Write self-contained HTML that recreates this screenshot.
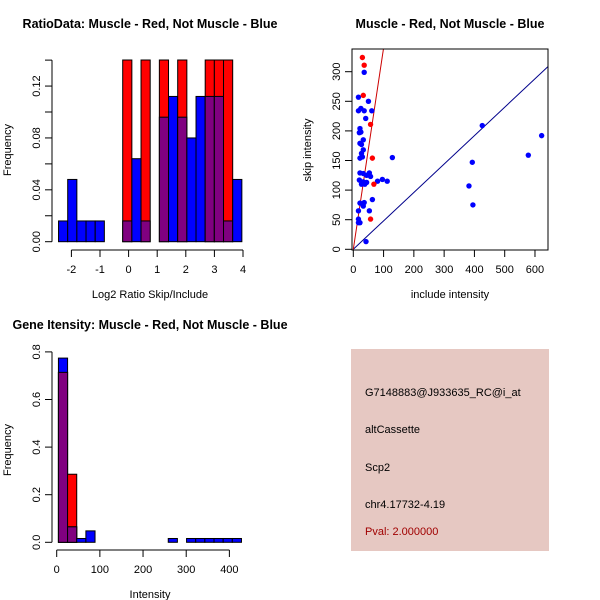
<!DOCTYPE html>
<html><head><meta charset="utf-8"><style>
body{margin:0;background:#fff}
svg{display:block;font-family:"Liberation Sans",sans-serif}
</style></head><body>
<svg id="c" width="600" height="600" viewBox="0 0 600 600"></svg>
<script>
// Ratio histogram data (20 bins)
const ratioBinStart = -2.45;
const ratioBinWidth = 0.3205;
const ratioBlue = [0.016,0.048,0.016,0.016,0.016,0,0,0.016,0.064,0.016,0,0.096,0.112,0.096,0.08,0.112,0.112,0.112,0.016,0.048];
const ratioRed  = [0,0,0,0,0,0,0,0.16,0,0.16,0,0.16,0,0.16,0,0,0.16,0.16,0.16,0];
const ratioXTicks = [-2,-1,0,1,2,3,4];
const ratioYTicks = [0,0.04,0.08,0.12];
// Scatter data
const redX = [30,36,33,57,63,68,57];
const redY = [324,311,260,211,154,110,51];
const blueX = [36,17,50,17,25,36,61,41,22,25,20,33,22,27,33,27,22,30,129,22,33,53,44,57,20,33,44,27,38,80,96,112,63,22,36,33,53,17,17,17,22,42,426,393,382,395,578,622];
const blueY = [299,257,250,234,238,234,234,221,204,198,197,185,179,177,168,162,154,156,155,129,128,129,125,123,117,114,113,110,110,115,118,115,84,78,79,73,65,65,51,45,45,13,209,147,107,75,159,192];
const scatXTicks = [0,100,200,300,400,500,600];
const scatYTicks = [0,50,100,150,200,250,300];
const redSlope = 3.4, blueSlope = 0.48;
// Intensity histogram (20 bins)
const intBinStart = 4;
const intBinWidth = 21.2;
const intBlue = [0.774,0.065,0.016,0.048,0,0,0,0,0,0,0,0,0.016,0,0.016,0.016,0.016,0.016,0.016,0.016];
const intRed  = [0.714,0.286,0,0,0,0,0,0,0,0,0,0,0,0,0,0,0,0,0,0];
const intXTicks = [0,100,200,300,400];
const intYTicks = [0,0.2,0.4,0.6,0.8];

const svg = document.getElementById('c');
const NS = 'http://www.w3.org/2000/svg';
function mk(tag, attrs, parent){const e=document.createElementNS(NS,tag);for(const k in attrs)e.setAttribute(k,attrs[k]);(parent||svg).appendChild(e);return e;}
function txt(s,x,y,attrs,parent){const t=mk('text',Object.assign({x:x,y:y,'font-size':11,'text-anchor':'middle',fill:'#000'},attrs||{}),parent);t.textContent=s;return t;}

// ---------- Panel 1 ----------
{
const g = mk('g',{});


const x = v => 128.6 + v*28.6;
const y = v => 241.7 - v*1297;
const clipTop = 60;
const t=txt('RatioData: Muscle - Red, Not Muscle - Blue',150,28,{'font-weight':'bold','font-size':12.5},g);

for(let i=0;i<ratioBlue.length;i++){
  const x0=x(ratioBinStart+i*ratioBinWidth), x1=x(ratioBinStart+(i+1)*ratioBinWidth);
  const r=ratioRed[i], b=ratioBlue[i];
  if(r>0){const ry=Math.max(y(r),clipTop);const e=mk('rect',{x:x0,y:ry,width:x1-x0,height:241.7-ry,fill:'#ff0000',stroke:'#000','stroke-width':1},g);
    }
  if(b>0){const col=r>0?'#800080':'#0000ff';const e=mk('rect',{x:x0,y:y(b),width:x1-x0,height:241.7-y(b),fill:col,stroke:'#000','stroke-width':1},g);
    }
}
mk('line',{x1:52,y1:y(0),x2:52,y2:y(0.14),stroke:'#000'},g);
for(let v=0;v<=0.1401;v+=0.02) mk('line',{x1:45,y1:y(v),x2:52,y2:y(v),stroke:'#000'},g);
ratioYTicks.forEach(v=>txt(v.toFixed(2),40,y(v),{transform:`rotate(-90 40 ${y(v)})`},g));
mk('line',{x1:x(-2),y1:250,x2:x(4),y2:250,stroke:'#000'},g);
ratioXTicks.forEach(v=>{mk('line',{x1:x(v),y1:250,x2:x(v),y2:257,stroke:'#000'},g);txt(String(v),x(v),273,{},g);});
const xl=txt('Log2 Ratio Skip/Include',150,298,{},g);
const yl=txt('Frequency',11,150,{transform:'rotate(-90 11 150)'},g);
}

// ---------- Panel 2 ----------
{
const g = mk('g',{});


const x = v => 353.3 + v*0.3028;
const y = v => 249.3 - v*0.592;
const t=txt('Muscle - Red, Not Muscle - Blue',450,28,{'font-weight':'bold','font-size':12.5},g);

const clip=mk('clipPath',{id:'sc'},g);
mk('rect',{x:352,y:49,width:196,height:201},clip);
const xmax=650;
mk('line',{x1:x(0),y1:y(0),x2:x(xmax),y2:y(xmax*blueSlope),stroke:'#00008b','clip-path':'url(#sc)'},g);
mk('line',{x1:x(0),y1:y(0),x2:x(120),y2:y(120*redSlope),stroke:'#cc0000','clip-path':'url(#sc)'},g);
blueX.forEach((v,i)=>{const c=mk('circle',{cx:x(v),cy:y(blueY[i]),r:2.7,fill:'#0000ff'},g);});
redX.forEach((v,i)=>{const c=mk('circle',{cx:x(v),cy:y(redY[i]),r:2.7,fill:'#ff0000'},g);});
mk('rect',{x:352,y:49,width:196,height:201,fill:'none',stroke:'#000'},g);
scatYTicks.forEach(v=>{mk('line',{x1:345,y1:y(v),x2:352,y2:y(v),stroke:'#000'},g);txt(String(v),340,y(v),{transform:`rotate(-90 340 ${y(v)})`},g);});
scatXTicks.forEach(v=>{mk('line',{x1:x(v),y1:250,x2:x(v),y2:257,stroke:'#000'},g);txt(String(v),x(v),273,{},g);});
const xl=txt('include intensity',450,298,{},g);
const yl=txt('skip intensity',311,150,{transform:'rotate(-90 311 150)'},g);
}

// ---------- Panel 3 ----------
{
const g = mk('g',{});


const x = v => 56.7 + v*0.4317;
const y = v => 542.3 - v*238;
const t=txt('Gene Itensity: Muscle - Red, Not Muscle - Blue',150,329,{'font-weight':'bold','font-size':12.5},g);

for(let i=0;i<intBlue.length;i++){
  const x0=x(intBinStart+i*intBinWidth), x1=x(intBinStart+(i+1)*intBinWidth);
  const r=intRed[i], b=intBlue[i];
  if(r>0){const e=mk('rect',{x:x0,y:y(r),width:x1-x0,height:542.3-y(r),fill:'#ff0000',stroke:'#000','stroke-width':1},g);
    }
  if(b>0){const e=mk('rect',{x:x0,y:y(b),width:x1-x0,height:542.3-y(b),fill:'#0000ff',stroke:'#000','stroke-width':1},g);
    }
  const m=Math.min(r,b);
  if(m>0){const e=mk('rect',{x:x0,y:y(m),width:x1-x0,height:542.3-y(m),fill:'#800080',stroke:'#000','stroke-width':1},g);
    }
}
mk('line',{x1:52,y1:y(0),x2:52,y2:y(0.8),stroke:'#000'},g);
intYTicks.forEach(v=>{mk('line',{x1:45,y1:y(v),x2:52,y2:y(v),stroke:'#000'},g);txt(v.toFixed(1),40,y(v),{transform:`rotate(-90 40 ${y(v)})`},g);});
mk('line',{x1:x(0),y1:550,x2:x(400),y2:550,stroke:'#000'},g);
intXTicks.forEach(v=>{mk('line',{x1:x(v),y1:550,x2:x(v),y2:557,stroke:'#000'},g);txt(String(v),x(v),573,{},g);});
const xl=txt('Intensity',150,598,{},g);
const yl=txt('Frequency',11,450,{transform:'rotate(-90 11 450)'},g);
}
</script>
<div style="position:absolute;left:351px;top:349px;width:198px;height:202px;background:#e6c8c2;font-family:'Liberation Sans',sans-serif;font-size:11px">
<div style="position:absolute;left:14px;top:38px">G7148883@J933635_RC@i_at</div>
<div style="position:absolute;left:14px;top:75px">altCassette</div>
<div style="position:absolute;left:14px;top:113px">Scp2</div>
<div style="position:absolute;left:14px;top:150px">chr4.17732-4.19</div>
<div style="position:absolute;left:14px;top:177px;color:#a00000">Pval: 2.000000</div>
</div>
</body></html>
